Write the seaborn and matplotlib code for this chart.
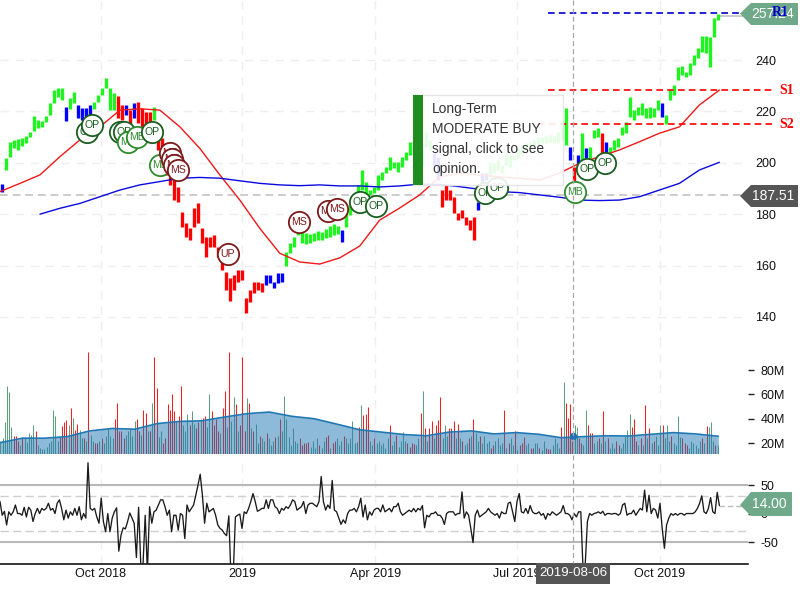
import numpy as np
import pandas as pd
import matplotlib
matplotlib.use("Agg")
import matplotlib.pyplot as plt
from matplotlib.patches import Polygon, Rectangle
import seaborn as sns

# price bars, one every other session or so
price_low = [188.8, 197.2, 202.4, 205.6, 205, 206.5, 207.8, 209.9, 212.5, 213.7,
             214, 216, 218.6, 223.1, 225.7, 224.4, 216.4, 220.8, 223.1, 217.3,
             216.7, 218, 218.6, 220.8, 223.8, 226.4, 229, 220.5, 220.5, 217.3,
             216.7, 218.6, 214, 217.3, 215.4, 214, 213.4, 214.7, 216.7, 205,
             202.4, 195.3, 191.4, 185.5, 184.9, 175.1, 171.3, 170, 175.1, 176.4,
             168.7, 163.5, 167.4, 167.4, 163.5, 158.3, 150.5, 146.4, 150.5, 153.7,
             154.4, 141.4, 146, 149.2, 150.5, 149.9, 152.5, 153.1, 151.2, 153.4,
             153.7, 159.8, 164.8, 167.4, 171.9, 168.8, 168.4, 168.8, 169.6, 170,
             170, 170.7, 171.1, 171.9, 172.3, 169.2, 175, 179.7, 183.6, 187.5,
             189.4, 188.2, 187.5, 188.2, 189.4, 193.3, 196, 197.2, 198, 196.4,
             198.4, 201.1, 203, 203, 201.1, 199.1, 206.1, 205, 199.1, 193.3,
             182.8, 185.5, 185.5, 180.5, 177.7, 178.5, 175.8, 173.9, 170, 181.6,
             190.6, 193.3, 194.5, 196, 197.2, 196, 199.1, 198.4, 201, 201.9,
             203, 205, 205.8, 206.9, 206.9, 207.7, 207.7, 208, 207.7, 207.7,
             208.9, 207, 201.1, 192.3, 198.5, 201, 201.7, 201.7, 209.5, 210.2,
             203.7, 203.7, 203.7, 205, 206.3, 210.8, 211.5, 218, 216.7, 218.6,
             218.6, 217.3, 217.3, 217.9, 220.5, 217.9, 215.1, 224.4, 226.4, 232.2,
             234.2, 233.3, 234.2, 238, 240.6, 243.2, 242.6, 237.4, 249, 255.6]
price_high = [191.8, 201.7, 208.2, 208.9, 209.1, 209.5, 210.4, 212.1, 218.2, 216.7,
              216.4, 218.2, 223.1, 228.3, 229, 229, 221.8, 225.1, 227.7, 222.5,
              221.2, 221.2, 222.5, 223.8, 226.4, 229, 232.9, 229, 227, 226,
              222.5, 222.5, 220.5, 223.1, 223.8, 221.2, 219.9, 219.9, 221.8, 213.4,
              209.5, 199.8, 194.6, 193.3, 190.7, 181, 176.4, 174.5, 182.3, 184.5,
              174.5, 171.3, 171.3, 171.9, 167.4, 162.2, 157.6, 155, 156.3, 158.3,
              158.3, 147.3, 150.5, 153.7, 153.7, 153.1, 156.3, 156.3, 153.7, 157,
              157, 165.4, 168.7, 171.3, 174.5, 173, 172.7, 172.3, 172.7, 173.5,
              173, 174.2, 175.4, 176.2, 175.4, 173.9, 180.5, 183.6, 187.5, 191.4,
              197.2, 192.5, 189.4, 190.6, 195.3, 196.4, 198.4, 202.3, 200.3, 200.3,
              202.3, 204.2, 208.1, 207, 205, 205, 212, 208.9, 203.8, 202.3,
              189.4, 191.4, 189.4, 186.7, 180.5, 181.6, 178.9, 177.7, 178.9, 184.7,
              196, 196, 200.3, 200, 201, 199, 203.8, 203, 203, 205.8,
              207, 207.7, 208, 208.9, 210, 210, 210.5, 210.8, 210.5, 212,
              216.7, 221.2, 206.3, 198.5, 203, 211.5, 205.6, 206.3, 212.8, 213.4,
              211.5, 208.2, 206.3, 208.9, 209.5, 214, 216, 225.7, 220.5, 221.8,
              223.1, 221.2, 221.8, 221.2, 224.4, 223.1, 218.6, 228.3, 230.3, 237.4,
              237.8, 235.4, 238.7, 242, 244.5, 249.3, 249.3, 249, 256.2, 257.9]
price_trend = list("b" + "g" * 15 + "b" + "g" * 2 + "b" * 4 + "g" * 6 + "r" * 2 + "b" + "r" + "b"
                   + "r" * 4 + "g" + "r" * 27 + "b" * 5 + "g" * 14 + "b" + "g" * 22 + "b" * 2
                   + "r" * 9 + "b" * 3 + "g" * 20 + "b" + "r" + "b" + "g" + "b" + "g" * 3
                   + "r" + "b" + "g" * 13 + "b" + "g" * 14)

# moving averages, read every 20 pixels or so
sma_short = [188.8, 192, 195.3, 202.4, 208.9, 214, 220.5, 221, 220.5, 214,
             205.6, 195.3, 185.5, 174.5, 164.8, 161.4, 160.6, 163, 167.6, 177.7,
             182.4, 187.5, 194.5, 196, 195.2, 194.5, 194, 193.3, 196, 199.8,
             202.4, 205, 208.2, 211.5, 214, 222.5, 228.3]
sma_long = [np.nan, np.nan, 180, 182.3, 184.2, 186.8, 189.4, 191.4, 192.7, 194,
            194.3, 194, 193, 192, 191.4, 191.1, 191.4, 191, 191, 190.6,
            191, 191.7, 191.6, 190.7, 189.7, 188.8, 188.4, 187.5, 186.6, 185.5,
            185.3, 185.5, 186.8, 189.4, 192, 197.2, 200.2]

# opinion bubbles
signal_session = [39.5, 41.8, 54.5, 56.4, 58.2, 62.3, 69.1, 72.7, 77.3, 78.2, 79.1, 80.9,
                  103.6, 135.9, 149.1, 153.2, 163.6, 170.9, 220.5, 225.9, 261.4, 266.8, 275]
signal_price = [212, 214.7, 212, 212, 208.1, 210, 212, 199.1, 203.8, 201.5, 199.1, 197.2,
                164.5, 177, 181.3, 182, 184.7, 183.2, 188.3, 190.2, 188.6, 197.6, 199.9]
signal_label = ["OP", "OP", "OP", "OP", "MB", "MB", "OP", "MB", "MS", "MS", "MS", "MS",
                "UP", "MS", "MS", "MS", "OP", "OP", "OP", "OP", "MB", "OP", "OP"]

volume = [22, 24, 37, 67, 62, 33, 26, 26, 22, 18,
          25, 25, 21, 28, 27, 35, 30, 18, 16, 15,
          15, 17, 20, 22, 47, 42, 22, 25, 34, 37,
          39, 35, 49, 41, 31, 36, 31, 24, 24, 22,
          95, 27, 22, 20, 20, 22, 24, 20, 26, 32,
          26, 24, 40, 53, 30, 30, 24, 27, 30, 32,
          26, 38, 40, 30, 27, 47, 45, 30, 30, 53,
          91, 65, 25, 30, 20, 24, 52, 47, 60, 46,
          38, 42, 67, 35, 30, 44, 35, 46, 36, 32,
          37, 40, 41, 42, 33, 60, 46, 35, 40, 30,
          28, 49, 63, 33, 95, 38, 58, 52, 30, 35,
          91, 30, 57, 53, 32, 30, 36, 20, 26, 24,
          22, 28, 24, 18, 22, 25, 26, 40, 30, 59,
          40, 25, 18, 32, 22, 20, 24, 18, 20, 20,
          21, 17, 22, 16, 24, 18, 16, 22, 25, 27,
          16, 20, 22, 24, 18, 22, 26, 24, 20, 24,
          38, 20, 21, 33, 51, 43, 44, 50, 22, 18,
          24, 20, 22, 18, 20, 16, 24, 35, 18, 22,
          27, 17, 22, 29, 22, 20, 17, 20, 19, 18,
          24, 45, 63, 32, 22, 32, 38, 24, 35, 39,
          58, 24, 35, 26, 32, 32, 38, 24, 36, 24,
          22, 18, 20, 24, 26, 40, 28, 22, 26, 20,
          26, 20, 22, 16, 18, 22, 24, 18, 20, 47,
          16, 20, 24, 18, 30, 14, 18, 20, 25, 18,
          20, 16, 16, 20, 20, 16, 14, 22, 16, 15,
          15, 18, 24, 20, 16, 33, 70, 53, 41, 52,
          22, 35, 33, 24, 20, 18, 47, 35, 28, 28,
          20, 22, 24, 20, 46, 22, 24, 16, 20, 16,
          22, 18, 16, 20, 26, 31, 44, 33, 40, 22,
          18, 24, 18, 51, 24, 32, 20, 22, 26, 18,
          35, 35, 24, 35, 22, 26, 20, 18, 42, 25,
          24, 20, 18, 16, 22, 20, 18, 16, 22, 24,
          20, 34, 33, 37, 22, 18, 18]
volume_side = list("ggggggrrrg" "rgggggrggg" "gggggggrrr" "rgrgrrggrg" "rggrrgrggg"
                   "ggrrrrrggg" "ggrrgrrgrg" "rrggrrrrrr" "grrgggrggr" "rgrrggrrrr"
                   "grrgrggrgr" "rrgrgrggrg" "grgggrgrgg" "ggggggrrrr" "rggggrggrr"
                   "grrgggrggg" "gggrgrrrgg" "rggggggrgg" "rggggrrrrg" "grgrgrrgrr"
                   "rgggrrrgrg" "rggrgrggrg" "gggrrggggr" "grggrgrrrg" "grrggrggrr"
                   "rggggrgrrr" "rggrrggrrr" "ggrgrgrggg" "rrgggggrrr" "grgrgrgrgg"
                   "grgggrgggg" "rrrggggggr" "grgggrg")
volume_avg = [20.3, 24, 24, 25.3, 30, 32, 31.4, 36, 37.8, 38.3, 41.4,
              44.2, 45.5, 42, 40, 35.6, 31, 29, 27, 26, 29,
              30, 27.5, 28.6, 27.2, 24.4, 25.3, 26, 25.8, 27.2, 28.6,
              27.5, 25.6]

cci = [21, -3, 4, -20, 3, -3, 3, 15, 0, 0,
       -3, 11, -6, 11, 6, -14, 0, 9, 0, 9,
       6, 9, 18, 6, 9, 0, 18, 24, 9, -11,
       6, -8, 3, -3, 9, -3, 12, -11, 0, -8,
       89, 9, 6, 9, -6, -17, 27, -14, -32, 0,
       -32, -8, 3, 10, -66, -38, -25, -27, -14, 1,
       -8, -17, -77, 11, -90, -90, -3, -102, 12, -17,
       3, 6, 15, 24, 24, 12, -3, 6, -32, -3,
       -3, -29, 0, -3, -44, 15, 3, 9, 15, 32,
       50, 69, 32, -17, 18, 3, 6, 9, -3, -20,
       -26, -29, -35, -39, -4, -114, -108, -6, -3, -1,
       -26, 3, 0, 9, 21, 35, 21, 4, 6, 9,
       9, 24, 9, 24, 24, 12, 9, 0, 9, 6,
       12, 9, 15, 24, 21, 6, 9, 12, 21, 0,
       15, 18, 18, 15, 12, 21, 65, 21, 6, 15,
       9, 58, 6, 3, -8, -19, -11, -17, 0, 6,
       6, 9, 3, 12, 27, -6, 15, -11, 3, -3,
       6, 9, 9, 3, 15, 3, 6, 9, 3, 12,
       12, 18, 3, -3, 0, 3, 6, 3, 9, 3,
       9, 6, 14, -25, -3, -6, 0, 0, 3, -3,
       -3, -8, -19, 0, 3, 3, 3, -3, 0, 0,
       38, -8, 3, -3, -26, -51, -3, 6, -6, -3,
       0, 3, 9, 3, 0, -3, 0, -8, 3, 0,
       0, 18, 20, 3, -14, 21, 35, 3, 1, 9,
       0, 14, 3, 0, 0, 3, -3, 0, -10, 0,
       -3, 3, 0, -3, 0, 3, 14, 0, 0, -3,
       -11, 0, -6, 3, 3, -96, -90, -14, 0, -3,
       0, 1, 3, 0, 4, -3, 0, 0, -1, 0,
       0, -3, 0, 15, 18, -3, 0, 0, 6, -3,
       3, 9, 6, 41, 3, 32, 0, 9, 6, -8,
       18, -26, -61, -20, -8, 0, -3, 0, -3, 0,
       0, -3, 0, 0, 0, 0, 3, 9, 18, 31,
       3, 0, 9, 28, 3, 0, 37, 14]

tick_session = [45.7, 110, 170.5, 235, 300]
tick_label = ["Oct 2018", "2019", "Apr 2019", "Jul 2019", "Oct 2019"]
price_ticks = [140, 160, 180, 200, 220, 240]
volume_ticks = [20, 40, 60, 80]
volume_tick_labels = ["20M", "40M", "60M", "80M"]
cci_ticks = [-50, 0, 50]

last_price = 257.24
prev_price = 187.51
last_cci = 14.00
hover_session = 260.5
hover_volume = 25.8
hover_date = "2019-08-06"
resistance_1 = 258.3
support_1 = 228.3
support_2 = 215.1

W, H = 800, 600
XMAX = 340

sns.set_theme(style="white")
plt.rcParams["font.family"] = ["Liberation Sans", "DejaVu Sans"]
plt.rcParams["axes.unicode_minus"] = False

GRID = "#efefef"
TAG_GREEN = "#6fa98a"
TAG_DARK = "#555555"
TREND = {"g": "#1ef51e", "b": "#0000ff", "r": "#ff0000"}
SIGNAL = {"OP": "#1b5e20", "MB": "#2e8b2e", "MS": "#7d1a1a", "UP": "#7d1a1a"}


def panel(fig, top, bottom):
    # axes given in pixels from the top of the picture
    return fig.add_axes([0, 1 - bottom / H, 748 / W, (bottom - top) / H])


fig = plt.figure(figsize=(W / 100, H / 100), dpi=100)
ax_price = panel(fig, 0, 345)
ax_vol = panel(fig, 345, 453.5)
ax_cci = panel(fig, 460, 563.7)

for ax in (ax_price, ax_vol, ax_cci):
    ax.set_xlim(0, XMAX)
    ax.set_xticks(tick_session)
    ax.patch.set_alpha(0)
    for side in ("top", "left", "right", "bottom"):
        ax.spines[side].set_visible(False)
    ax.yaxis.tick_right()
    ax.grid(axis="x", color=GRID, linestyle=(0, (6, 5)), linewidth=1)
    ax.set_axisbelow(True)
    ax.tick_params(axis="x", length=0, labelbottom=False)

# price panel
ax_price.set_ylim(129.1, 263.35)
ax_price.set_yticks(price_ticks)
ax_price.grid(axis="y", color=GRID, linestyle=(0, (6, 5)), linewidth=1)
ax_price.tick_params(axis="y", length=0, pad=5, labelsize=9, labelcolor="#111111")

bar_session = np.linspace(0.9, 326.4, len(price_low))
ax_price.vlines(bar_session, price_low, price_high,
                colors=[TREND[t] for t in price_trend], linewidth=2.4, zorder=2)

sma_session = np.linspace(0, 327, len(sma_short))
sma = pd.DataFrame({"session": sma_session, "short": sma_short, "long": sma_long})
sns.lineplot(data=sma, x="session", y="short", color="#f01818", linewidth=1, ax=ax_price, zorder=3)
sns.lineplot(data=sma, x="session", y="long", color="#0a0ae0", linewidth=1, ax=ax_price, zorder=3)

ax_price.axhline(prev_price, color="#cccccc", linestyle=(0, (4, 2.5)), linewidth=1.4, zorder=1)
ax_price.hlines(last_price, 327, XMAX, color="#cccccc", linewidth=1.4, zorder=1)
ax_price.hlines(resistance_1, 249, 351, color="#0000cc", linestyle=(0, (4, 2.5)), linewidth=1.2,
                zorder=4, clip_on=False)
ax_price.hlines(support_1, 249, 351, color="#ff0000", linestyle=(0, (4, 2.5)), linewidth=1.2,
                zorder=4, clip_on=False)
ax_price.hlines(support_2, 244.5, 351, color="#ff0000", linestyle=(0, (4, 2.5)), linewidth=1.2,
                zorder=4, clip_on=False)

signals = pd.DataFrame({"session": signal_session, "price": signal_price, "label": signal_label})
for i, row in signals.iterrows():
    sns.scatterplot(x=[row["session"]], y=[row["price"]], s=235, color="white",
                    edgecolor=SIGNAL[row["label"]], linewidth=1.3, ax=ax_price,
                    zorder=5 + i * 0.01, legend=False)
    ax_price.text(row["session"], row["price"], row["label"], ha="center", va="center",
                  fontsize=7.6, color=SIGNAL[row["label"]], zorder=5 + i * 0.01)
ax_price.set_xlabel("")
ax_price.set_ylabel("")

# volume panel
ax_vol.set_ylim(11.4, 100.7)
ax_vol.set_yticks(volume_ticks)
ax_vol.set_yticklabels(volume_tick_labels)
ax_vol.tick_params(axis="y", length=4, width=1, pad=5, labelsize=9, color="#222222", labelcolor="#111111")
vol_session = np.arange(len(volume)) + 0.2
side_colors = {"r": "#ee2222", "g": "#5f9f7f"}
ax_vol.vlines(vol_session, 11.4, volume, colors=[side_colors[s] for s in volume_side],
              linewidth=0.75, zorder=2)
avg_session = np.linspace(0, 326.5, len(volume_avg))
ax_vol.fill_between(avg_session, 11.4, volume_avg, color="#1f77b4", alpha=0.5, linewidth=0, zorder=3)
sns.lineplot(x=avg_session, y=volume_avg, color="#1f77b4", linewidth=1.2, ax=ax_vol, zorder=4)
sns.scatterplot(x=[hover_session], y=[hover_volume], s=28, color="#1f6fb4", linewidth=0,
                ax=ax_vol, zorder=5, legend=False)
ax_vol.set_ylabel("")

# oscillator panel
ax_cci.set_ylim(-88, 93.9)
ax_cci.set_yticks(cci_ticks)
ax_cci.tick_params(axis="y", length=4, width=1, pad=5, labelsize=9, color="#222222", labelcolor="#111111")
for level in (50, -50):
    ax_cci.axhline(level, color="#b8b8b8", linewidth=1.5, zorder=1)
for level in (30, -30):
    ax_cci.axhline(level, color="#cfcfcf", linestyle=(0, (6, 3)), linewidth=1, zorder=1)
sns.lineplot(x=np.arange(len(cci)), y=cci, color="#1a1a1a", linewidth=0.95, ax=ax_cci, zorder=3)
ax_cci.hlines(last_cci, len(cci) - 1, XMAX, color="#bbbbbb", linestyle=(0, (4, 2)), linewidth=1, zorder=2)
ax_cci.set_ylabel("")
ax_cci.spines["bottom"].set_visible(True)
ax_cci.spines["bottom"].set_color("black")
ax_cci.spines["bottom"].set_linewidth(1.1)
ax_cci.set_xticks(tick_session)
ax_cci.set_xticklabels(tick_label)
ax_cci.tick_params(axis="x", length=0, pad=3, labelsize=9, labelbottom=True, labelcolor="#111111")
ax_cci.set_xlim(0, XMAX)

# overlay in pixels for the tags, crosshair and the opinion box
ov = fig.add_axes([0, 0, 1, 1], zorder=20)
ov.set_xlim(0, W)
ov.set_ylim(H, 0)
ov.axis("off")

ov.plot([573, 573], [0, 563], color="#a8a8a8", linestyle=(0, (4, 2.5)), linewidth=0.9)

ov.add_patch(Rectangle((413, 95), 150, 90, facecolor="white", edgecolor="#e4e4e4", alpha=0.9, linewidth=1))
ov.add_patch(Rectangle((413, 95), 10, 90, facecolor="#1e8c1e", edgecolor="none"))
for y, line in zip([109, 129, 149, 169], ["Long-Term", "MODERATE BUY", "signal, click to see", "opinion."]):
    ov.text(432, y, line, ha="left", va="center", fontsize=9.9, color="#333333")


def tag(y, right, color, text, top, bottom):
    ov.add_patch(Polygon([(740, y), (751, top), (right, top), (right, bottom), (751, bottom)],
                         closed=True, facecolor=color, edgecolor="none"))
    ov.text(773 if right > 795 else 769, (top + bottom) / 2, text, ha="center", va="center",
            fontsize=10, color="white")


tag(13.5, 798, TAG_GREEN, f"{last_price:.2f}", 3, 25)
tag(196, 798, TAG_DARK, f"{prev_price:.2f}", 185, 207)
tag(505, 792, TAG_GREEN, f"{last_cci:.2f}", 492, 516)

ov.text(780, 12, "R1", ha="center", va="center", fontsize=10, fontweight="bold",
        family="Liberation Serif", color="#0000cc")
ov.text(787, 90, "S1", ha="center", va="center", fontsize=10, fontweight="bold",
        family="Liberation Serif", color="#ff0000")
ov.text(787, 124, "S2", ha="center", va="center", fontsize=10, fontweight="bold",
        family="Liberation Serif", color="#ff0000")

ov.add_patch(Rectangle((536, 563), 74, 21, facecolor=TAG_DARK, edgecolor="none"))
ov.text(573, 573.5, hover_date, ha="center", va="center", fontsize=9.5, color="white")

fig.savefig("out.png", dpi=100)
